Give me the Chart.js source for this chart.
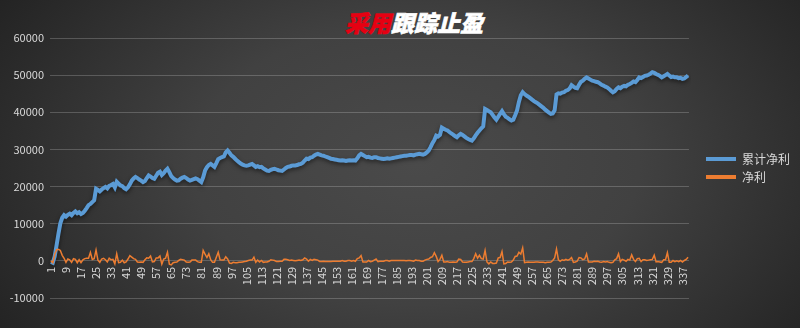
<!DOCTYPE html>
<html lang="zh">
<head>
<meta charset="UTF-8">
<title>采用跟踪止盈</title>
<script src="https://cdn.jsdelivr.net/npm/chart.js"></script>
<style>
  body {
    margin: 0;
    width: 800px;
    height: 328px;
    overflow: hidden;
    position: relative;
    font-family: "Noto Sans CJK SC", sans-serif;
    background: radial-gradient(ellipse 62% 95% at 52% 50%, #4a4a4a 0%, #414141 45%, #2b2b2b 85%, #232323 100%);
  }

  /* title is plain html so the two colours can sit in one line */
  .title {
    position: absolute;
    top: 6px;
    left: 14px;
    width: 800px;
    text-align: center;
    font-size: 23px;
    line-height: 32px;
    font-weight: 900;
    font-style: italic;
    color: #ffffff;
    -webkit-text-stroke: 0.6px currentColor;
  }
  .title span { color: #e60012; }

  .chart-box {
    position: absolute;
    left: 0;
    top: 0;
    width: 800px;
    height: 328px;
  }
</style>
</head>
<body>
<div class="title"><span>采用</span>跟踪止盈</div>
<div class="chart-box"><canvas id="profitChart"></canvas></div>

<script>
  // trade numbers 1..340 on the category axis
  const tradeNo = Array.from({ length: 340 }, (_, i) => String(i + 1));

  // 累计净利
  const cumProfit = [
    -300, -500, 1200, 4200, 7300, 10100, 11600, 12300, 11900, 12400, 12700, 12300, 12900, 13300, 12800, 13100, 12600, 12900, 13500, 14200,
    15000, 15300, 15800, 16300, 19400, 19100, 18700, 19200, 19600, 19900, 19500, 20200, 20400, 20700, 19800, 21300, 20800, 20300, 20100, 19600,
    19300, 19800, 20600, 21600, 22200, 22600, 22300, 21900, 21600, 21200, 21500, 22300, 23000, 22700, 22300, 22100, 22900, 23700, 24000, 23100,
    23600, 24300, 24800, 23900, 22800, 22300, 21900, 21600, 21700, 22100, 22400, 22600, 22300, 21900, 21600, 21800, 22000, 22200, 22000, 21600,
    21200, 22500, 24300, 25200, 25800, 26100, 25700, 25300, 26300, 27400, 27700, 27900, 28100, 29200, 29700, 29100, 28400, 28000, 27500, 27000,
    26600, 26200, 25900, 25700, 25600, 25700, 25900, 26100, 25700, 25300, 25500, 25200, 25300, 24900, 24600, 24300, 24200, 24500, 24700, 24800,
    24600, 24400, 24300, 24200, 24600, 25000, 25300, 25400, 25600, 25700, 25700, 25800, 26000, 26100, 26400, 27000, 27500, 27400, 27800, 27900,
    28300, 28600, 28800, 28600, 28400, 28300, 28100, 27900, 27700, 27500, 27400, 27300, 27200, 27100, 27000, 27100, 27000, 26900, 27000, 27100,
    27000, 27100, 27000, 27600, 28400, 28800, 28500, 28200, 27900, 28000, 27800, 27700, 27900, 27900, 27700, 27600, 27500, 27400, 27500, 27600,
    27500, 27600, 27700, 27800, 27900, 28000, 28100, 28200, 28300, 28300, 28400, 28500, 28500, 28400, 28600, 28700, 28800, 28700, 28600, 28800,
    29200, 29700, 30600, 31700, 32500, 33700, 33500, 33900, 35900, 35600, 35300, 35100, 34700, 34300, 34000, 33600, 33300, 33800, 34200, 33900,
    33500, 33100, 32800, 32600, 32400, 33000, 33800, 34500, 35100, 35700, 36200, 40900, 40600, 40300, 40000, 39300, 38600, 38000, 38800, 39600,
    40300, 39500, 38800, 38500, 38100, 37800, 38000, 39200, 40500, 42800, 44600, 45400, 44900, 44500, 44200, 43800, 43400, 43000, 42700, 42400,
    42000, 41600, 41200, 40700, 40300, 39900, 39600, 39700, 40500, 44800, 45100, 45000, 45300, 45400, 45800, 46000, 46400, 47300, 46900, 46600,
    46500, 47400, 48200, 48500, 49000, 49400, 49100, 48800, 48500, 48400, 48200, 48100, 47800, 47400, 47200, 46900, 46700, 46300, 45800, 45400,
    45700, 46300, 46700, 46500, 46900, 47100, 47000, 47400, 47600, 47900, 48300, 48100, 48700, 49400, 49200, 49500, 49800, 49900, 50100, 50400,
    50800, 50600, 50300, 50100, 49800, 49400, 49700, 50000, 50300, 49900, 49500, 49600, 49400, 49400, 49200, 49300, 49000, 49100, 49500, 49900
  ];

  // 净利
  const netProfit = [
    0, -500, 1700, 3000, 3100, 2800, 1500, 700, -400, 500, 300, -400, 600, 400, -500, 300, -500, 300, 600, 700,
    700, 2300, 400, 600, 2900, 200, -400, 500, 700, 300, -300, 700, 300, 400, -800, 1900, -500, -400, 200, -500,
    -300, 500, 1400, 1000, 600, 400, -300, -400, -300, -400, 300, 800, 700, 1300, -300, -200, 800, 800, 1300, -900,
    500, 700, 2300, -900, -1100, -500, -400, -300, 100, 400, 300, 200, -300, -400, -300, 200, 200, 200, -200, -400,
    -400, 2800, 1800, 900, 1900, 300, -400, -400, 1000, 2300, 300, 200, 200, 1100, 500, -600, -700, -400, -500, -500,
    -400, -400, -300, -200, -100, 100, 200, 200, 1000, -400, 200, -300, 100, -400, -300, -300, -100, 300, 200, 100,
    -200, -200, -100, -100, 400, 400, 300, 100, 200, 100, 0, 100, 200, 100, 300, 800, 500, -100, 400, 100,
    400, 300, 200, -200, -200, -100, -200, -200, -200, -200, -100, -100, -100, -100, -100, 100, -100, -100, 100, 100,
    -100, 100, -100, 600, 800, 1400, -300, -300, -300, 100, -200, -100, 200, 500, -200, -100, -100, -100, 100, 100,
    -100, 100, 100, 100, 100, 100, 100, 100, 100, 0, 100, 100, 0, -100, 200, 100, 100, -100, -100, 200,
    400, 500, 900, 1100, 2200, 1200, -200, 400, 1500, -300, -300, -200, -400, -400, -300, -400, -300, 500, 400, -300,
    -400, -400, -300, -200, -200, 600, 1900, 700, 1500, 600, 500, 2800, -300, -800, -300, -700, -700, -600, 800, 900,
    2500, -800, -700, -300, -400, -300, 200, 1200, 1300, 2300, 1800, 3500, -500, -400, -300, -400, -400, -400, -300, -300,
    -400, -400, -400, -500, -400, -400, -300, 100, 800, 3200, 300, -100, 300, 100, 400, 200, 400, 900, -400, -300,
    -100, 900, 800, 300, 500, 1900, -300, -300, -300, -100, -200, -100, -300, -400, -200, -300, -200, -400, -500, -400,
    300, 600, 1900, -200, 400, 200, -100, 400, 200, 1600, 400, -200, 600, 700, -200, 300, 300, 100, 200, 300,
    400, 1500, -300, -200, -300, -400, 300, 300, 2200, -400, -400, 100, -200, 0, -200, 100, -300, 100, 400, 1000
  ];

  const yMin = -10000;
  const yMax = 60000;
  const yStep = 10000;
  const labelEvery = 8;

  const textColor = '#d9d9d9';
  const tickFont = { family: '"Noto Sans CJK SC", sans-serif', size: 11 };

  // soft shadow under the thick blue line
  const lineShadow = {
    id: 'lineShadow',
    beforeDatasetDraw(chart, args) {
      if (args.index !== 0) return;
      const c = chart.ctx;
      c.save();
      c.shadowColor = 'rgba(0, 0, 0, 0.5)';
      c.shadowBlur = 4;
      c.shadowOffsetY = 2;
    },
    afterDatasetDraw(chart, args) {
      if (args.index === 0) chart.ctx.restore();
    }
  };

  const ctx = document.getElementById('profitChart').getContext('2d');
  const profitChart = new Chart(ctx, {
    type: 'line',
    data: {
      labels: tradeNo,
      datasets: [{
        label: '累计净利',
        data: cumProfit,
        borderColor: '#5b9bd5',
        backgroundColor: '#5b9bd5',
        borderWidth: 4,
        pointRadius: 0,
        tension: 0,
        order: 1
      }, {
        label: '净利',
        data: netProfit,
        borderColor: '#ed7d31',
        backgroundColor: '#ed7d31',
        borderWidth: 1.5,
        pointRadius: 0,
        tension: 0,
        order: 0
      }]
    },
    options: {
      responsive: true,
      maintainAspectRatio: false,
      animation: false,
      layout: { padding: { top: 38, bottom: 30, left: 0, right: 0 } },
      plugins: {
        tooltip: { enabled: false },
        legend: {
          position: 'right',
          labels: {
            color: textColor,
            font: { family: '"Noto Sans CJK SC", sans-serif', size: 12 },
            boxWidth: 30,
            boxHeight: 4,
            padding: 6,
            sort: (a, b) => a.datasetIndex - b.datasetIndex,
            generateLabels(chart) {
              const items = Chart.defaults.plugins.legend.labels.generateLabels(chart);
              items.forEach(it => { it.lineWidth = 0; });
              return items;
            }
          }
        }
      },
      scales: {
        x: {
          position: { y: 0 },
          offset: true,
          grid: { display: false, drawTicks: false },
          border: { display: false },
          ticks: {
            color: textColor,
            font: tickFont,
            autoSkip: false,
            minRotation: 90,
            maxRotation: 90,
            padding: 6,
            callback(value, index) {
              return index % labelEvery === 0 ? this.getLabelForValue(value) : null;
            }
          }
        },
        y: {
          min: yMin,
          max: yMax,
          grid: { color: 'rgba(255, 255, 255, 0.2)', lineWidth: 1, drawTicks: false },
          border: { display: false },
          ticks: {
            stepSize: yStep,
            color: textColor,
            font: tickFont,
            padding: 6,
            callback: v => v
          },
          afterFit(scale) { scale.width = 50; }
        },
        // empty strip between plot and legend
        gap: {
          position: 'right',
          display: true,
          grid: { display: false },
          border: { display: false },
          ticks: { display: false },
          afterFit(scale) { scale.width = 11; }
        }
      }
    },
    plugins: [lineShadow]
  });
</script>
</body>
</html>
